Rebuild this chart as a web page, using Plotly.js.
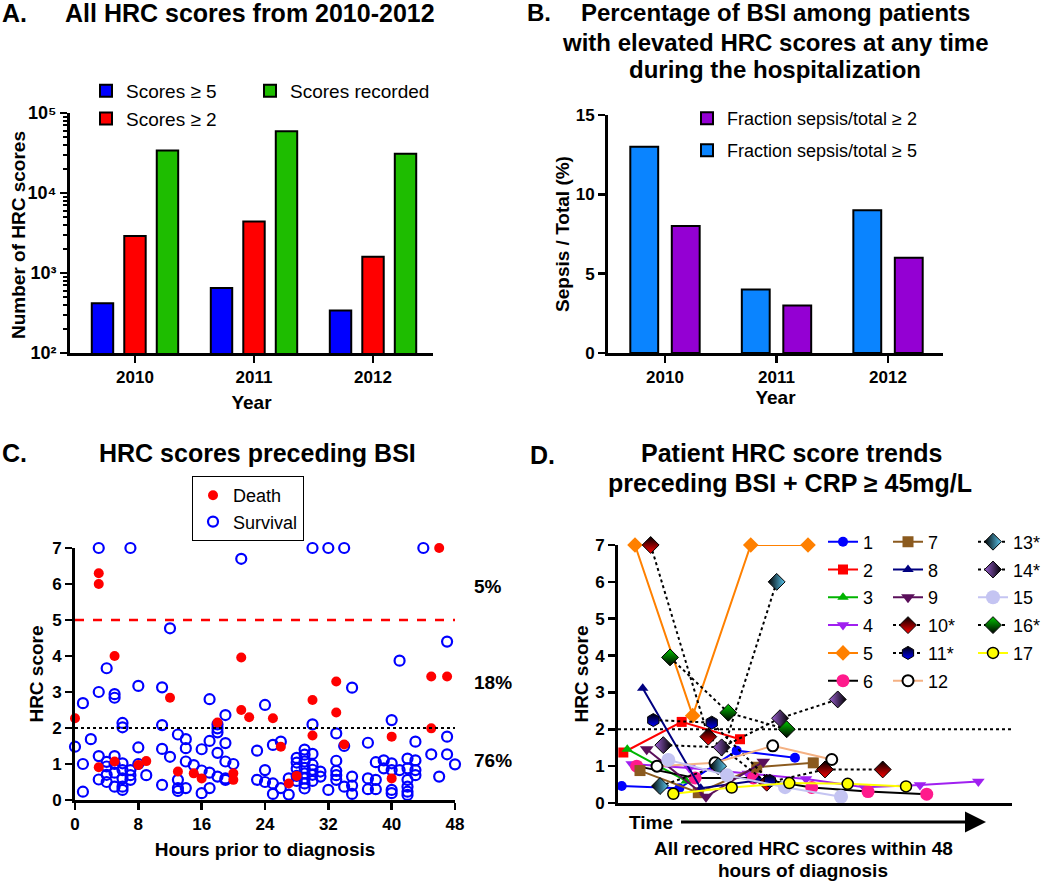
<!DOCTYPE html>
<html><head><meta charset="utf-8">
<script src="https://cdn.plot.ly/plotly-3.0.1.min.js"></script>
<style>html,body{margin:0;padding:0;background:#fff}#chart{width:1050px;height:882px}</style>
</head><body><div id="chart"></div>
<script>
// ---------- Panel A data ----------
const yearsA = ['2010', '2011', '2012'];
const scoresGe5 = [420, 650, 340];
const scoresGe2 = [2900, 4400, 1600];
const scoresRecorded = [34000, 59000, 31000];
const logTickVals = [100, 1000, 10000, 100000];
const logTickText = ['10²', '10³', '10⁴', '10⁵'];

// ---------- Panel B data ----------
const yearsB = ['2010', '2011', '2012'];
const fracGe5 = [13, 4, 9];
const fracGe2 = [8, 3, 6];

// ---------- Panel C data ----------
const deathHours = [0,3,3,3,5,5,8,9,12,13,15,16,18,20,20,21,21,22,25,26,27,28,30,30,33,33,34,40,40,45,45,46,47];
const deathScores = [2.27,6.3,6.0,0.91,4.0,1.07,0.97,1.08,2.84,0.79,0.74,0.6,2.15,0.74,0.56,3.96,2.5,2.3,2.27,1.48,0.46,0.67,2.78,1.79,3.29,2.43,1.54,1.76,0.6,3.43,1.99,7.0,3.43];
const survHours = [0,1,1,1,2,3,3,3,3,4,4,4,4,4,5,5,5,5,5,5,6,6,6,6,6,6,6,7,7,7,7,8,8,8,9,11,11,11,11,12,12,13,13,13,13,14,14,14,14,15,16,16,16,17,17,17,17,18,18,18,18,18,19,19,19,19,19,20,21,23,23,24,24,24,25,25,25,26,26,27,27,28,28,28,28,28,29,29,29,29,29,29,29,29,30,30,30,30,30,30,30,31,31,32,32,33,33,33,33,33,34,34,34,35,35,35,35,37,37,37,38,38,38,39,39,40,40,40,40,40,41,41,42,42,42,42,42,42,43,43,43,43,44,45,46,47,47,47,48];
const survScores = [1.48,2.69,1.0,0.23,1.69,7.0,3.0,1.22,0.57,3.66,1.06,0.93,0.7,0.5,2.94,2.84,1.22,1.0,0.76,0.37,2.14,2.02,1.02,0.83,0.6,0.37,0.28,7.0,0.83,0.69,0.56,3.17,1.46,1.0,0.69,3.13,2.08,1.42,0.42,4.77,1.2,1.82,0.56,0.33,0.25,1.69,1.44,1.07,0.33,0.97,1.41,0.82,0.19,2.8,1.64,0.76,0.33,2.1,1.99,1.88,1.31,0.65,2.36,1.58,1.07,0.6,0.56,1.0,6.7,1.37,0.56,2.64,0.83,0.5,1.53,0.46,0.17,1.62,0.33,0.6,0.15,1.17,1.04,0.87,0.67,0.53,1.4,1.26,1.07,0.89,0.74,0.6,0.46,0.32,7.0,2.1,1.28,0.98,0.84,0.7,0.53,0.79,0.65,7.0,0.28,1.85,1.09,0.81,0.69,0.56,7.0,1.5,0.37,3.12,0.65,0.4,0.17,1.59,0.6,0.3,1.05,0.56,0.3,1.1,0.88,2.22,1.02,0.83,0.28,0.19,3.87,0.83,1.15,0.88,0.56,0.37,0.23,0.14,1.62,1.1,0.83,0.69,7.0,1.27,0.65,4.4,1.76,1.27,0.99];

// ---------- Panel D data (x: relative time within 48 h) ----------
const t1x = [0.45, 7.47, 14.46, 21.56],            t1y = [0.46, 0.40, 1.42, 1.23];
const t2x = [0.65, 7.76, 14.86],                   t2y = [1.37, 2.2, 1.73];
const t3x = [1.13, 8.3],                           t3y = [1.46, 0.6];
const t4x = [1.67, 8.7, 15.8, 22.9, 30.0, 36.79, 43.9], t4y = [1.06, 0.95, 0.8, 0.65, 0.43, 0.49, 0.58];
const t5x = [2.07, 9.10, 16.17, 23.15],            t5y = [7, 2.37, 7, 7];
const t6x = [2.28, 9.4, 16.5, 23.6, 30.46, 37.61], t6y = [1.0, 0.68, 0.68, 0.42, 0.31, 0.24];
const t7x = [2.68, 9.78, 16.9, 23.79],             t7y = [0.88, 0.28, 0.97, 1.09];
const t8x = [3.01, 10.08, 17.15],                  t8y = [3.11, 0.4, 0.62];
const t9x = [3.5, 10.72, 17.7],                    t9y = [1.46, 0.17, 1.12];
const t10x = [3.98, 11.0, 18.12, 25.22, 32.25],    t10y = [7.0, 1.8, 0.55, 0.91, 0.91];
const t11x = [4.3, 11.42, 18.5],                   t11y = [2.25, 2.18, 0.6];
const t12x = [4.75, 11.82, 18.85, 26.04],          t12y = [1.0, 1.09, 1.55, 1.18];
const t13x = [5.12, 12.2, 19.33],                  t13y = [0.46, 1.0, 6.0];
const t14x = [5.52, 12.63, 19.74, 26.77],          t14y = [1.57, 1.51, 2.3, 2.81];
const t15x = [6.13, 13.3, 20.35, 27.17],           t15y = [1.17, 0.75, 0.43, 0.17];
const t16x = [6.34, 13.44, 20.55],                 t16y = [3.95, 2.45, 2.0];
const t17x = [6.74, 13.85, 20.87, 27.98, 35.09],   t17y = [0.25, 0.42, 0.54, 0.52, 0.45];
const trendNames = ['1','2','3','4','5','6','7','8','9','10*','11*','12','13*','14*','15','16*','17'];

// ---------- helpers ----------
const W = 1050, H = 882;
const fx = p => p / W;
const fy = p => 1 - p / H;
const BOLD = {family: 'Arial, Liberation Sans, DejaVu Sans, sans-serif', color: '#000', weight: 'bold'};
const REG = {family: 'Arial, Liberation Sans, DejaVu Sans, sans-serif', color: '#000'};
const f = (base, size) => Object.assign({}, base, {size: size});

const traces = [];

// Panel A bars
const barLine = {color: '#000', width: 2};
traces.push({type: 'bar', x: yearsA, y: scoresGe5, name: 'Scores ≥ 5', xaxis: 'x', yaxis: 'y',
  marker: {color: '#0000ff', line: barLine}, width: 0.18, offset: -0.363, legend: 'legend'});
traces.push({type: 'bar', x: yearsA, y: scoresGe2, name: 'Scores ≥ 2', xaxis: 'x', yaxis: 'y',
  marker: {color: '#ff0000', line: barLine}, width: 0.18, offset: -0.09, legend: 'legend'});
traces.push({type: 'bar', x: yearsA, y: scoresRecorded, name: 'Scores recorded', xaxis: 'x', yaxis: 'y',
  marker: {color: '#1ebd00', line: barLine}, width: 0.18, offset: 0.183, legend: 'legend2'});

// Panel B bars
traces.push({type: 'bar', x: yearsB, y: fracGe5, name: 'Fraction sepsis/total ≥ 5', xaxis: 'x2', yaxis: 'y2',
  marker: {color: '#0a84ff', line: barLine}, width: 0.25, offset: -0.311, legend: 'legend3', legendgroup: 'b5', legendrank: 2});
traces.push({type: 'bar', x: yearsB, y: fracGe2, name: 'Fraction sepsis/total ≥ 2', xaxis: 'x2', yaxis: 'y2',
  marker: {color: '#9400d3', line: barLine}, width: 0.25, offset: 0.061, legend: 'legend3', legendgroup: 'b2', legendrank: 1});

// Panel C scatter
traces.push({type: 'scatter', mode: 'markers', x: survHours, y: survScores, name: 'Survival', xaxis: 'x3', yaxis: 'y3',
  marker: {symbol: 'circle-open', color: '#0000ff', size: 10, line: {width: 2.2, color: '#0000ff'}}, cliponaxis: false,
  legend: 'legend4', legendrank: 2});
traces.push({type: 'scatter', mode: 'markers', x: deathHours, y: deathScores, name: 'Death', xaxis: 'x3', yaxis: 'y3',
  marker: {symbol: 'circle', color: '#ff0000', size: 10}, cliponaxis: false, legend: 'legend4', legendrank: 1});

// Panel D trends
const tX = [t1x,t2x,t3x,t4x,t5x,t6x,t7x,t8x,t9x,t10x,t11x,t12x,t13x,t14x,t15x,t16x,t17x];
const tY = [t1y,t2y,t3y,t4y,t5y,t6y,t7y,t8y,t9y,t10y,t11y,t12y,t13y,t14y,t15y,t16y,t17y];
const tStyle = [
  {lc: '#0000ff', dash: 'solid', m: {symbol: 'circle', color: '#0000ff', size: 10}},
  {lc: '#ff0000', dash: 'solid', m: {symbol: 'square', color: '#ff0000', size: 10}},
  {lc: '#00b400', dash: 'solid', m: {symbol: 'triangle-up', color: '#00b400', size: 10}},
  {lc: '#a020f0', dash: 'solid', m: {symbol: 'triangle-down', color: '#a020f0', size: 11}},
  {lc: '#ff8000', dash: 'solid', m: {symbol: 'diamond', color: '#ff8000', size: 12}},
  {lc: '#000000', dash: 'solid', m: {symbol: 'circle', color: '#ff1a8c', size: 13}},
  {lc: '#8b5a1e', dash: 'solid', m: {symbol: 'square', color: '#8b5a1e', size: 11}},
  {lc: '#000080', dash: 'solid', m: {symbol: 'triangle-up', color: '#000080', size: 10}},
  {lc: '#5a0f5a', dash: 'solid', m: {symbol: 'triangle-down', color: '#5a0f5a', size: 12}},
  {lc: '#000000', dash: 'dot', m: {symbol: 'diamond', color: '#000000', size: 13, gradient: {type: 'vertical', color: '#ff0000'}, line: {color: '#000', width: 1}}},
  {lc: '#000000', dash: 'dot', m: {symbol: 'hexagon', color: '#000000', size: 13, gradient: {type: 'vertical', color: '#0000ff'}, line: {color: '#000', width: 1}}},
  {lc: '#f4b183', dash: 'solid', m: {symbol: 'circle', color: '#ffffff', size: 11, line: {color: '#000', width: 2}}},
  {lc: '#000000', dash: 'dot', m: {symbol: 'diamond', color: '#000000', size: 13, gradient: {type: 'horizontal', color: '#5bc8f0'}, line: {color: '#000', width: 1}}},
  {lc: '#000000', dash: 'dot', m: {symbol: 'diamond', color: '#9a5fd0', size: 13, gradient: {type: 'horizontal', color: '#000000'}, line: {color: '#000', width: 1}}},
  {lc: '#c4c4f2', dash: 'solid', m: {symbol: 'circle', color: '#c4c4f2', size: 14}},
  {lc: '#000000', dash: 'dot', m: {symbol: 'diamond', color: '#00c800', size: 13, gradient: {type: 'vertical', color: '#000000'}, line: {color: '#000', width: 1}}},
  {lc: '#ffff00', dash: 'solid', m: {symbol: 'circle', color: '#ffff00', size: 11, line: {color: '#000', width: 1.5}}}
];
for (let i = 0; i < 17; i++) {
  const s = tStyle[i];
  traces.push({type: 'scatter', mode: 'lines+markers', x: tX[i], y: tY[i], name: trendNames[i],
    xaxis: 'x4', yaxis: 'y4', cliponaxis: false,
    line: {color: s.lc, width: 2, dash: s.dash}, marker: s.m,
    legend: i < 6 ? 'legend5' : (i < 12 ? 'legend6' : 'legend7'), legendgroup: 'g' + i});
}

// ---------- axes ----------
const axBase = {showline: true, linecolor: '#000', linewidth: 3, ticks: 'outside', ticklen: 7, tickwidth: 2.5,
  tickcolor: '#000', showgrid: false, zeroline: false, tickfont: f(BOLD, 17), fixedrange: true};
const axTitle = (text, standoff) => ({text: text, font: f(BOLD, 19), standoff: standoff});
const minorLog = [];
for (let e = 2; e < 5; e++) for (let k = 2; k <= 9; k++) minorLog.push(k * Math.pow(10, e));

const layout = {
  width: W, height: H, margin: {l: 0, r: 0, t: 0, b: 0}, paper_bgcolor: '#fff', plot_bgcolor: 'rgba(0,0,0,0)',
  showlegend: true, barmode: 'overlay',
  xaxis: Object.assign({}, axBase, {domain: [fx(70), fx(433)], anchor: 'y', type: 'category', range: [-0.546, 2.504],
    title: axTitle('Year', 10)}),
  yaxis: Object.assign({}, axBase, {domain: [fy(353), fy(113)], anchor: 'x', type: 'log', range: [2, 5],
    tickmode: 'array', tickvals: logTickVals, ticktext: logTickText, tickfont: f(BOLD, 18),
    minor: {tickmode: 'array', tickvals: minorLog, ticks: 'outside', ticklen: 4, tickwidth: 2, tickcolor: '#000'}}),
  xaxis2: Object.assign({}, axBase, {domain: [fx(608), fx(943)], anchor: 'y2', type: 'category', range: [-0.511, 2.493],
    title: axTitle('Year', 5)}),
  yaxis2: Object.assign({}, axBase, {domain: [fy(353), fy(115)], anchor: 'x2', range: [0, 15], tickvals: [0, 5, 10, 15],
    title: axTitle('Sepsis / Total (%)', 2)}),
  xaxis3: Object.assign({}, axBase, {domain: [fx(75), fx(455)], anchor: 'y3', range: [0, 48], tickvals: [0, 8, 16, 24, 32, 40, 48],
    title: axTitle('Hours prior to diagnosis', 10)}),
  yaxis3: Object.assign({}, axBase, {domain: [fy(800), fy(548)], anchor: 'x3', range: [0, 7], tickvals: [0, 1, 2, 3, 4, 5, 6, 7],
    title: axTitle('HRC score', 4)}),
  xaxis4: Object.assign({}, axBase, {domain: [fx(618), fx(1012)], anchor: 'y4', range: [0, 48], ticks: '', showticklabels: false}),
  yaxis4: Object.assign({}, axBase, {domain: [fy(803), fy(545)], anchor: 'x4', range: [0, 7], tickvals: [0, 1, 2, 3, 4, 5, 6, 7],
    title: axTitle('HRC score', 2)}),
  legend: {x: fx(86), y: fy(72), xanchor: 'left', yanchor: 'top', font: f(REG, 19), bgcolor: 'rgba(0,0,0,0)', itemclick: false},
  legend2: {x: fx(250), y: fy(72), xanchor: 'left', yanchor: 'top', font: f(REG, 19), bgcolor: 'rgba(0,0,0,0)', itemclick: false},
  legend3: {x: fx(687), y: fy(100), xanchor: 'left', yanchor: 'top', font: f(REG, 18), bgcolor: 'rgba(0,0,0,0)',
    traceorder: 'grouped', tracegroupgap: 5.6, itemclick: false},
  legend4: {x: fx(192), y: fy(476), xanchor: 'left', yanchor: 'top', font: f(REG, 18), bgcolor: '#fff',
    bordercolor: '#000', borderwidth: 1, traceorder: 'normal', itemclick: false},
  legend5: {x: fx(823), y: fy(523.5), xanchor: 'left', yanchor: 'top', font: f(REG, 18), bgcolor: 'rgba(0,0,0,0)',
    traceorder: 'grouped', tracegroupgap: 1.4, itemclick: false},
  legend6: {x: fx(888), y: fy(523.5), xanchor: 'left', yanchor: 'top', font: f(REG, 18), bgcolor: 'rgba(0,0,0,0)',
    traceorder: 'grouped', tracegroupgap: 1.4, itemclick: false},
  legend7: {x: fx(973), y: fy(523.5), xanchor: 'left', yanchor: 'top', font: f(REG, 18), bgcolor: 'rgba(0,0,0,0)',
    traceorder: 'grouped', tracegroupgap: 1.4, itemclick: false},
  shapes: [
    {type: 'line', xref: 'x3', yref: 'y3', x0: 0, x1: 48, y0: 5, y1: 5, line: {color: '#ff0000', width: 2.5, dash: 'dash'}},
    {type: 'line', xref: 'x3', yref: 'y3', x0: 0, x1: 48, y0: 2, y1: 2, line: {color: '#000', width: 2, dash: 'dot'}},
    {type: 'line', xref: 'x4 domain', yref: 'y4', x0: 0, x1: 1, y0: 2, y1: 2, line: {color: '#000', width: 2, dash: 'dot'}, layer: 'below'}
  ],
  annotations: []
};

function ann(text, x, y, size, opts) {
  layout.annotations.push(Object.assign({text: text, x: fx(x), y: fy(y), xref: 'paper', yref: 'paper',
    showarrow: false, xanchor: 'center', yanchor: 'middle', font: f(BOLD, size)}, opts || {}));
}
// Titles
ann('A.', 0, 13, 25, {xanchor: 'left'});
ann('All HRC scores from 2010-2012', 63, 13, 25, {xanchor: 'left'});
ann('B.', 525, 13, 24, {xanchor: 'left'});
ann('Percentage of BSI among patients', 775, 13, 24);
ann('with elevated HRC scores at any time', 775, 42, 24);
ann('during the hospitalization', 775, 70, 24);
ann('C.', 0, 453, 25, {xanchor: 'left'});
ann('HRC scores preceding BSI', 257, 453, 25);
ann('D.', 528, 455, 25, {xanchor: 'left'});
ann('Patient HRC score trends', 791, 453, 25);
ann('preceding BSI + CRP ≥ 45mg/L', 790, 483, 25);
ann('Number of HRC scores', 18, 235, 19, {textangle: -90});
ann('Time', 627, 822, 19, {xanchor: 'left'});
ann('All recored HRC scores within 48', 803, 848, 19);
ann('hours of diagnosis', 803, 870, 19);
// Percent labels in C
ann('5%', 472, 586, 19, {xanchor: 'left'});
ann('18%', 472, 682, 19, {xanchor: 'left'});
ann('76%', 472, 760, 19, {xanchor: 'left'});
// Time arrow
layout.annotations.push({text: ' ', x: fx(986), y: fy(822), xref: 'paper', yref: 'paper', showarrow: true,
  axref: 'pixel', ayref: 'pixel', ax: -307, ay: 0, arrowhead: 2, arrowsize: 1.4, arrowwidth: 3, arrowcolor: '#000', standoff: 0,
  font: f(REG, 2)});

Plotly.newPlot('chart', traces, layout, {displayModeBar: false, staticPlot: true});
</script>
</body></html>
